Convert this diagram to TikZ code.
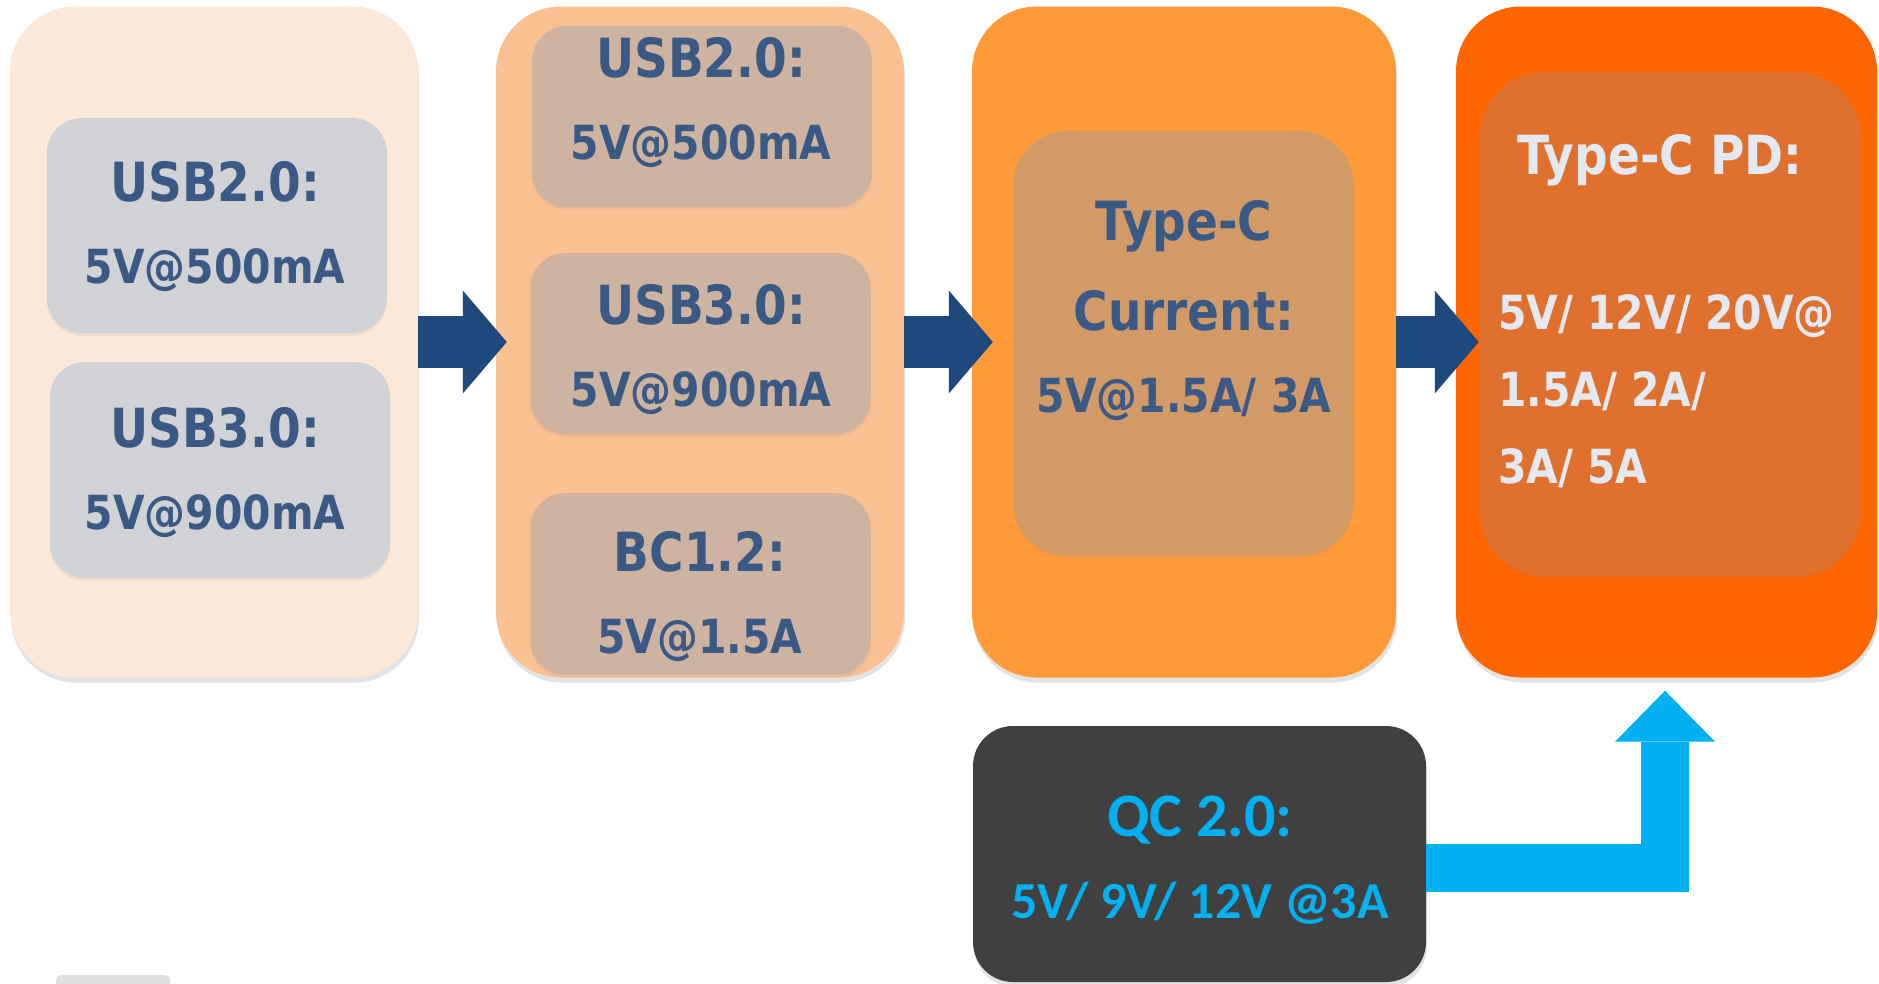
\documentclass[tikz,border=0pt]{standalone}
\usepackage{fontspec}
\usepackage{xcolor}
\usepackage{tikz}
\usetikzlibrary{arrows.meta,positioning,calc,shadows}
\newfontfamily\boxfont{DejaVu Sans}[FakeStretch=0.87]
\newfontfamily\qcfont{Carlito}
\definecolor{pblue}{HTML}{3A5A85}
\definecolor{parrow}{HTML}{1F497D}
\definecolor{pcyan}{HTML}{00B0F0}
\definecolor{plight}{HTML}{E4E9F1}
\definecolor{tierone}{HTML}{FCE9DA}
\definecolor{tiertwo}{HTML}{F9C092}
\definecolor{tierthree}{HTML}{FE9A37}
\definecolor{tierfour}{HTML}{FF6600}
\definecolor{innerone}{HTML}{D0D2D6}
\definecolor{innertwo}{HTML}{CDB3A0}
\definecolor{innerthree}{HTML}{D29A67}
\definecolor{innerfour}{HTML}{E0702D}
\definecolor{qcgray}{HTML}{404040}
\newcommand{\hd}[1]{{\fontsize{54}{82}\selectfont #1}}

\begin{document}
\begin{tikzpicture}[x=1pt,y=-1pt,
  tier/.style={rounded corners=65pt,inner sep=0pt,
    minimum width=408pt,minimum height=671pt,
    drop shadow={shadow xshift=1pt,shadow yshift=-5pt,opacity=0.22}},
  spec/.style={rounded corners=35pt,inner sep=0pt,minimum width=340pt,
    drop shadow={shadow xshift=0pt,shadow yshift=-3pt,opacity=0.10}},
  val/.style={align=center,inner sep=0pt,text=pblue,
    font=\boxfont\bfseries\fontsize{47}{82}\selectfont},
  flow/.style={line width=52pt,draw=parrow,
    -{Triangle[length=44pt,width=103pt,line width=0pt]}},
  qcflow/.style={line width=48pt,draw=pcyan,line join=miter,
    -{Triangle[length=51pt,width=100pt,line width=0pt]}}]
  \fill[white] (0,0) rectangle (1879,983);
  \useasboundingbox (0,0) rectangle (1879,983);

  % charging tiers
  \node[tier,fill=tierone] (b1) at (214,342) {};
  \node[tier,fill=tiertwo] (b2) at (700,342) {};
  \node[tier,fill=tierthree,minimum width=424pt] (b3) at (1184,342) {};
  \node[tier,fill=tierfour,minimum width=421pt] (b4) at (1666.5,342) {};
  \node[tier,fill=qcgray,rounded corners=40pt,
        minimum width=453pt,minimum height=256pt] (b5) at (1199.5,854) {};

  \node[spec,fill=innerone,minimum height=215pt] (b1a) at (217,225.5) {};
  \node[spec,fill=innerone,minimum height=216pt] (b1b) at (220,470) {};
  \node[spec,fill=innertwo,minimum height=181pt] (b2a) at (702,116.5) {};
  \node[spec,fill=innertwo,minimum height=181pt] (b2b) at (700.5,343.5) {};
  \node[spec,fill=innertwo,minimum height=182pt] (b2c) at (700.5,584) {};
  \node[spec,fill=innerthree,rounded corners=55pt,
        minimum width=341pt,minimum height=425pt] (b3a) at (1183.5,343.5) {};
  \node[spec,fill=innerfour,rounded corners=65pt,
        minimum width=381pt,minimum height=504pt] (b4a) at (1670.5,324) {};

  % labels
  \node[val,anchor=north] (t1a) at (215,161) {\hd{USB2.0:}\\5V@500mA};
  \node[val,anchor=north] (t1b) at (215,407) {\hd{USB3.0:}\\5V@900mA};
  \node[val,anchor=north] (t2a) at (701,37) {\hd{USB2.0:}\\5V@500mA};
  \node[val,anchor=north] (t2b) at (701,284) {\hd{USB3.0:}\\5V@900mA};
  \node[val,anchor=north] (t2c) at (700,531) {\hd{BC1.2:}\\5V@1.5A};
  \node[val,anchor=north] (t3a) at (1184,200)
    {\hd{Type-C}\\[8pt]\hd{Current:}\\5V@1.5A/ 3A};
  \node[val,text=plight,anchor=base] (t4a) at (1660,174.5) {\hd{Type-C PD:}};
  \node[val,text=plight,align=left,anchor=north west,
        font=\boxfont\bfseries\fontsize{47}{77}\selectfont] (t4b) at (1498,294)
    {5V/ 12V/ 20V@\\1.5A/ 2A/\\3A/ 5A};
  \node[align=center,inner sep=0pt,text=pcyan,anchor=north,
        font=\qcfont\bfseries\fontsize{52}{82}\selectfont] (t5) at (1200,796)
    {{\fontsize{62}{82}\selectfont QC 2.0:}\\5V/ 9V/ 12V @3A};

  % arrows
  \draw[flow] (b1.east) -- ($(b2.west)+(11,0)$);
  \draw[flow] (b2.east) -- ($(b3.west)+(21,0)$);
  \draw[flow] (b3.east) -- ($(b4.west)+(23,0)$);
  \coordinate (pdin) at ($(b4.south)+(-1.5,13)$);
  \draw[qcflow] ($(b5.east)+(0,13.5)$) -| (pdin);

  \fill[black!12,rounded corners=5pt] (56,975) rectangle (170,1000);
\end{tikzpicture}
\end{document}
